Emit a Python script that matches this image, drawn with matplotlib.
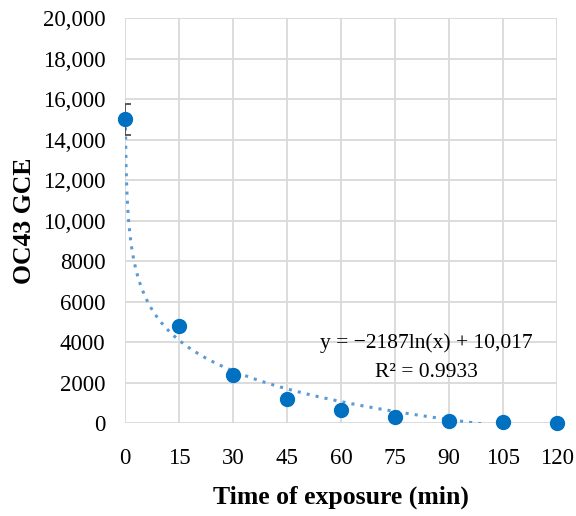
import numpy as np
import matplotlib.pyplot as plt

# exposure time (min) and measured value
time_min = [0, 15, 30, 45, 60, 75, 90, 105, 120]
gce = [15000, 4800, 2400, 1200, 650, 300, 100, 40, 0]
err = [750, 0, 0, 0, 0, 0, 0, 0, 0]

# logarithmic fit given on the chart
fit_a = -2187
fit_b = 10017

y_ticks = [0, 2000, 4000, 6000, 8000, 10000, 12000, 14000, 16000, 18000, 20000]
y_labels = ['0', '2000', '4000', '6000', '8000', '10,000', '12,000',
            '14,000', '16,000', '18,000', '20,000']
x_ticks = [0, 15, 30, 45, 60, 75, 90, 105, 120]

plt.rcParams['font.family'] = ['Liberation Serif', 'DejaVu Serif']

fig = plt.figure(figsize=(5.76, 5.16), dpi=100)
ax = fig.add_axes([0.217, 0.180, 0.750, 0.785])

# trend line
xf = np.linspace(0.1, 120, 600)
ax.plot(xf, fit_a * np.log(xf) + fit_b, color='#5B9BD5', linestyle=(0, (1, 2)),
        linewidth=2.2, zorder=2)

# error bar on first point
ax.errorbar(time_min[:1], gce[:1], yerr=err[:1], fmt='none', ecolor='#404040',
            elinewidth=1.2, capsize=4, capthick=1.2, zorder=3)

ax.plot(time_min, gce, 'o', color='#0070C0', markersize=10, clip_on=False, zorder=4)

ax.text(83.6, 3950, 'y = \u22122187ln(x) + 10,017', ha='center', va='center', fontsize=15.5)
ax.text(83.6, 2480, 'R\u00b2 = 0.9933', ha='center', va='center', fontsize=15.5)

ax.set_xlim(0, 120)
ax.set_ylim(0, 20000)
ax.set_xticks(x_ticks)
ax.set_yticks(y_ticks)
ax.set_yticklabels(y_labels)
ax.tick_params(labelsize=16.5, length=0)
ax.tick_params(axis='x', pad=18)
ax.tick_params(axis='y', pad=14)

ax.grid(True, color='#D9D9D9', linewidth=1.3)
ax.set_axisbelow(True)
for s in ax.spines.values():
    s.set_visible(False)

ax.set_xlabel('Time of exposure (min)', fontsize=18.5, fontweight='bold', labelpad=12)
ax.set_ylabel('OC43 GCE', fontsize=18.5, fontweight='bold', labelpad=5)

fig.savefig('out.png', dpi=100)
